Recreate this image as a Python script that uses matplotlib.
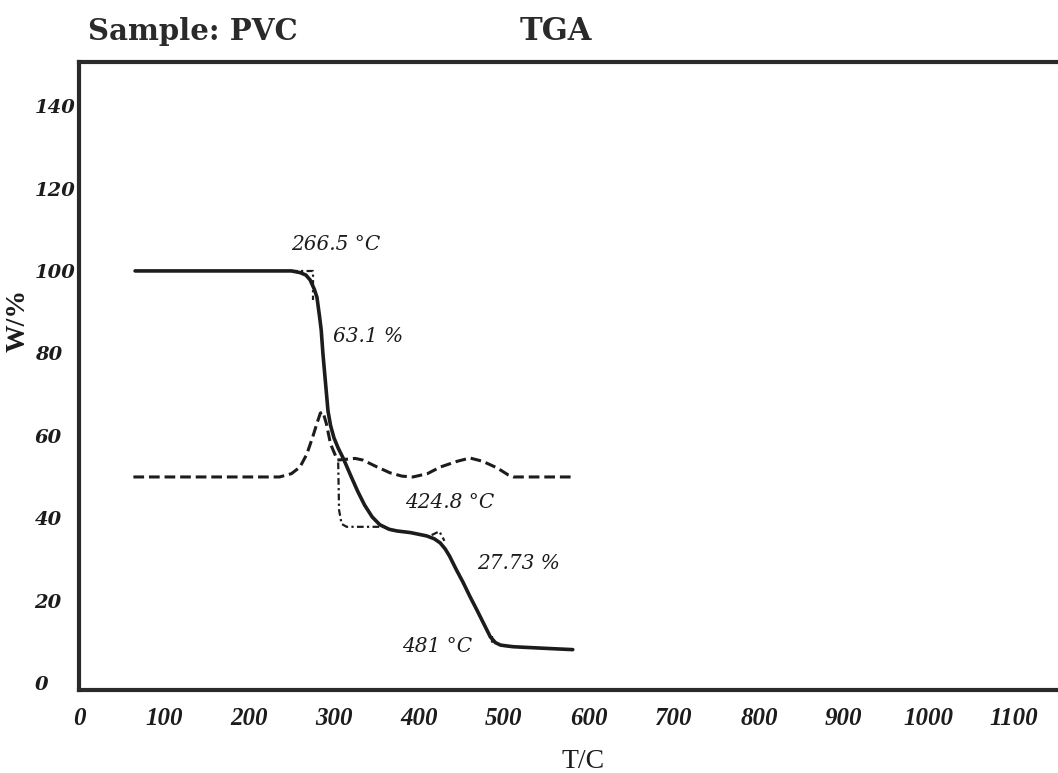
import numpy as np
import matplotlib
matplotlib.use("Agg")
import matplotlib.pyplot as plt

# TGA curve (weight %, solid)
tga_t = [66, 120, 180, 230, 250, 260, 267, 272, 277, 280, 283, 285, 287, 290, 293, 296,
         300, 305, 311, 320, 328, 336, 345, 354, 365, 374, 390, 409, 418, 425, 431, 436, 444,
         452, 460, 468, 476, 484, 490, 496, 503, 511, 540, 560, 581]
tga_w = [100, 100, 100, 100, 100, 99.6, 99, 97.8, 95.5, 93.6, 89, 85.7, 80, 73, 66, 62.5,
         59.5, 57, 54.5, 50.2, 46.5, 43.2, 40.3, 38.4, 37.3, 36.9, 36.5, 35.7, 35, 34, 32.5, 30.8, 27.5,
         24.4, 21, 17.8, 14.5, 11.2, 9.8, 9.2, 9, 8.8, 8.5, 8.3, 8.1]

# DTG curve (dashed, offset to sit around 50)
dtg_t = [64, 150, 236, 250, 260, 268, 275, 280, 284, 287, 291, 296, 304, 315, 325, 334,
         350, 366, 380, 393, 410, 425, 445, 460, 475, 492, 505, 511, 540, 581]
dtg_v = [50, 50, 50, 50.8, 52.4, 55.5, 59.7, 63, 65.5, 65.8, 63, 58, 54.1, 54.3, 54.5, 54.1,
         52.5, 51, 50.2, 50, 50.8, 52.4, 53.8, 54.6, 53.8, 52.2, 50.5, 50, 50, 50]

# tangent / onset construction lines
onset1_t = [250, 275, 275]
onset1_w = [100, 100, 93]
step1_t = [305, 306, 309, 315, 354]
step1_w = [53.5, 42, 38.6, 37.9, 37.9]
onset2_t = [415, 424, 430]
onset2_w = [35.9, 36.8, 34.5]
end_t = [486, 486]
end_w = [11.4, 9.2]

# annotations: text, T, W
notes = [("266.5 °C", 250, 106.3),
         ("63.1 %", 299, 84.2),
         ("424.8 °C", 384, 43.9),
         ("27.73 %", 468, 29.1),
         ("481 °C", 380, 8.8)]

xticks = [0, 100, 200, 300, 400, 500, 600, 700, 800, 900, 1000, 1100]
yticks = [0, 20, 40, 60, 80, 100, 120, 140]

ink = "#1c1c1c"
serif = "Liberation Serif"
wide = "DejaVu Serif"

fig = plt.figure(figsize=(10.58, 7.73), dpi=100)
ax = fig.add_axes([79 / 1058, 1 - 690 / 773, 1 - 79 / 1058, (690 - 62) / 773])

ax.plot(tga_t, tga_w, color=ink, lw=2.6, solid_capstyle="round")
ax.plot(dtg_t, dtg_v, color=ink, lw=2.2, ls=(0, (3.5, 1.6)))
for tt, ww in [(onset1_t, onset1_w), (step1_t, step1_w), (onset2_t, onset2_w), (end_t, end_w)]:
    ax.plot(tt, ww, color=ink, lw=1.6, ls=(0, (3, 1.5, 1, 1.5)))

for txt, t, w in notes:
    ax.text(t, w, txt, fontsize=14.5, style="italic", family=wide, color=ink,
            ha="left", va="center")

ax.set_xlim(0, 1152)
ax.set_ylim(-1.7, 150.7)
ax.set_xticks(xticks)
ax.set_yticks(yticks)
ax.set_xticklabels([str(v) for v in xticks], fontsize=18, fontweight="bold",
                   style="italic", family=serif, color=ink)
ax.set_yticklabels([str(v) for v in yticks], fontsize=14, fontweight="bold",
                   style="italic", family=wide, color=ink)
ax.tick_params(axis="both", length=0)
ax.tick_params(axis="x", pad=12)
ax.tick_params(axis="y", pad=32)
for lab in ax.get_yticklabels():
    lab.set_horizontalalignment("left")

for side in ["left", "bottom", "top"]:
    ax.spines[side].set_linewidth(3)
    ax.spines[side].set_color("#2a2a2a")
ax.spines["right"].set_visible(False)

fig.text(88 / 1058, 1 - 32 / 773, "Sample: PVC", fontsize=21, fontweight="bold",
         family=wide, color="#2a2a2a", ha="left", va="center")
fig.text(556 / 1058, 1 - 32 / 773, "TGA", fontsize=22, fontweight="bold",
         family=wide, color="#2a2a2a", ha="center", va="center")
fig.text(18 / 1058, 1 - 320 / 773, "W/%", fontsize=20, fontweight="bold",
         family=serif, color=ink, rotation=90, ha="center", va="center")
fig.text(583 / 1058, 1 - 762 / 773, "T/C", fontsize=20, family=serif, color=ink,
         ha="center", va="center")

fig.savefig("out.png", dpi=100)
